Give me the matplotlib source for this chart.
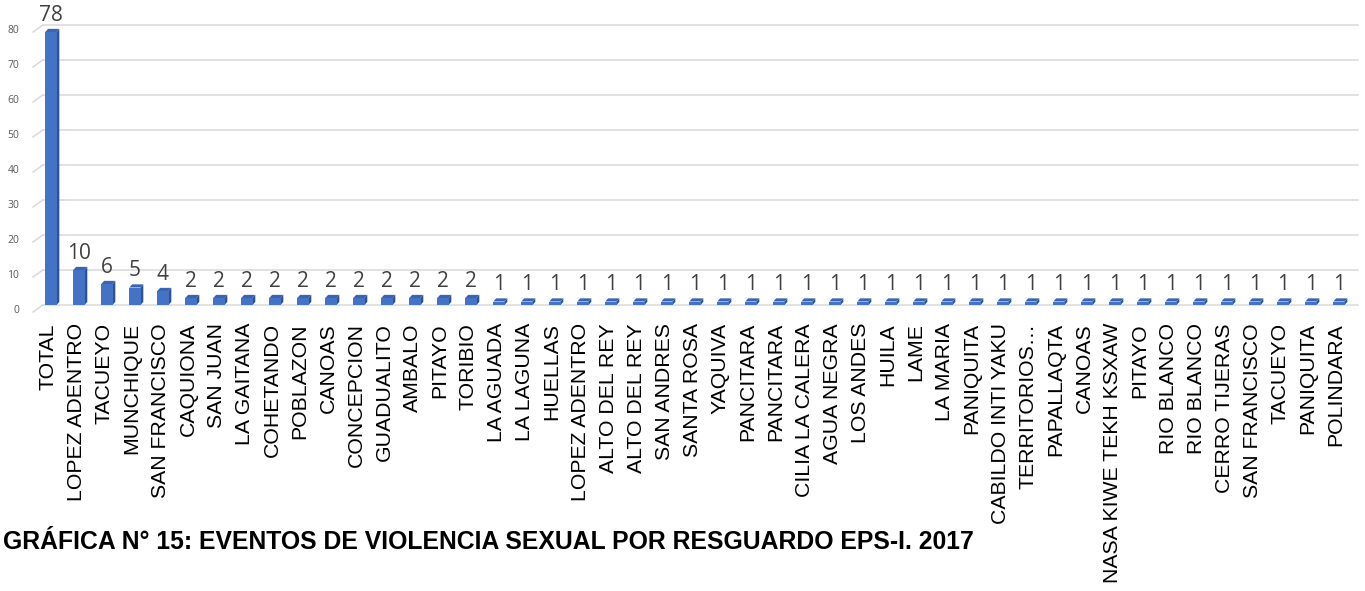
#!/usr/bin/env python3
"""Eventos de violencia sexual por resguardo, EPS-I 2017 (bar chart, Excel 3D look)."""

import matplotlib

matplotlib.use("Agg")
import matplotlib.pyplot as plt
import matplotlib.transforms as mtransforms
from matplotlib.patches import Polygon

# ---------------------------------------------------------------------------
# Data
# ---------------------------------------------------------------------------
resguardos = [
    "TOTAL", "LOPEZ ADENTRO", "TACUEYO", "MUNCHIQUE", "SAN FRANCISCO",
    "CAQUIONA", "SAN JUAN", "LA GAITANA", "COHETANDO", "POBLAZON", "CANOAS",
    "CONCEPCION", "GUADUALITO", "AMBALO", "PITAYO", "TORIBIO", "LA AGUADA",
    "LA LAGUNA", "HUELLAS", "LOPEZ ADENTRO", "ALTO DEL REY", "ALTO DEL REY",
    "SAN ANDRES", "SANTA ROSA", "YAQUIVA", "PANCITARA", "PANCITARA",
    "CILIA LA CALERA", "AGUA NEGRA", "LOS ANDES", "HUILA", "LAME", "LA MARIA",
    "PANIQUITA", "CABILDO INTI YAKU", "TERRITORIOS\u2026", "PAPALLAQTA",
    "CANOAS", "NASA KIWE TEKH KSXAW", "PITAYO", "RIO BLANCO", "RIO BLANCO",
    "CERRO TIJERAS", "SAN FRANCISCO", "TACUEYO", "PANIQUITA", "POLINDARA",
]
eventos = [78, 10, 6, 5, 4] + [2] * 11 + [1] * 31
y_ticks = [0, 10, 20, 30, 40, 50, 60, 70, 80]
titulo = "GRÁFICA N° 15: EVENTOS DE VIOLENCIA SEXUAL POR RESGUARDO EPS-I. 2017"

# ---------------------------------------------------------------------------
# Style
# ---------------------------------------------------------------------------
FRONT = "#4472C4"
SIDE = "#2F528F"
TOP = "#3A64B0"
GRID = "#D9D9D9"
LABEL = "#404040"
YTICK = "#595959"

W, H, DPI = 1365, 591, 100
BAR_W = 0.40      # front face width (category units)
DEPTH_X = 0.10    # 3D depth offset, x (category units)
DEPTH_Y = 0.9     # 3D depth offset, y (value units)

fig = plt.figure(figsize=(W / DPI, H / DPI), dpi=DPI)
ax = fig.add_axes([33 / W, 1 - 312 / H, (1358 - 33) / W, 294 / H])
ax.set_xlim(-0.64, 46.68)
ax.set_ylim(-2, 82)
ax.axis("off")

xs = list(range(len(eventos)))

# gridlines with the small slanted "floor" piece on the left
for t in y_ticks:
    ax.plot([-0.64, -0.29], [t - 2, t], color=GRID, lw=1.1, zorder=0, clip_on=False)
    ax.plot([-0.29, 46.68], [t, t], color=GRID, lw=1.1, zorder=0, clip_on=False)
    ax.text(
        -0.64, t - 1.5, str(t), ha="right", va="center", fontsize=7.5,
        color=YTICK, family="Open Sans",
        transform=ax.transData + mtransforms.ScaledTranslation(-10 / 72, 0, fig.dpi_scale_trans),
    )

# bars: front face + darker side + top
ax.bar(xs, eventos, width=BAR_W, color=FRONT, zorder=3)
for x, v in zip(xs, eventos):
    r = x + BAR_W / 2
    l = x - BAR_W / 2
    ax.add_patch(Polygon([(r, 0), (r + DEPTH_X, DEPTH_Y), (r + DEPTH_X, v + DEPTH_Y), (r, v)],
                         closed=True, color=SIDE, lw=0, zorder=2))
    ax.add_patch(Polygon([(l, v), (l + DEPTH_X, v + DEPTH_Y), (r + DEPTH_X, v + DEPTH_Y), (r, v)],
                         closed=True, color=TOP, lw=0, zorder=2))
    ax.annotate(
        str(v), (x, v), xytext=(0, 8), textcoords="offset points",
        ha="center", va="baseline", fontsize=15, color=LABEL, family="Open Sans",
        annotation_clip=False,
    )

# category labels (rotated), a touch left of the bars like the original
shift = mtransforms.ScaledTranslation(-2 / 72, -13 / 72, fig.dpi_scale_trans)
for x, name in zip(xs, resguardos):
    ax.text(
        x, 0, name, rotation=90, ha="center", va="top", fontsize=15.3,
        family="Liberation Sans", color="black",
        transform=ax.transData + shift,
    )

fig.text(3 / W, 1 - 549 / H, titulo, fontsize=17.8, fontweight="bold",
         va="baseline", ha="left", color="black", family="Liberation Sans")

fig.savefig("out.png", dpi=DPI)
